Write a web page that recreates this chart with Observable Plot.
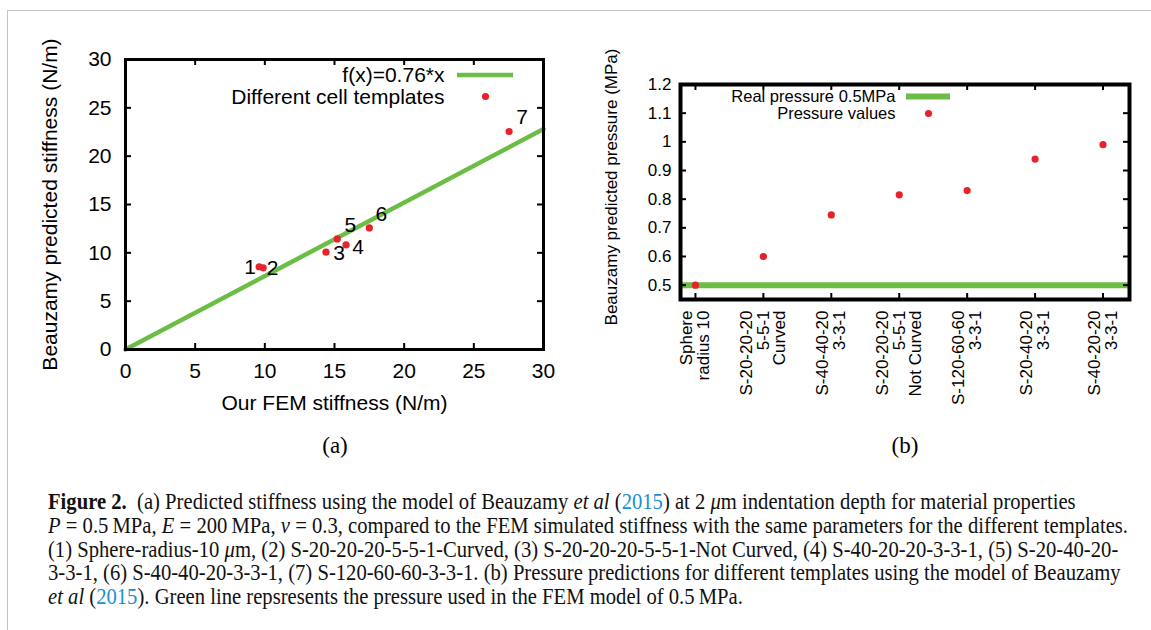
<!DOCTYPE html>
<html>
<head>
<meta charset="utf-8">
<script src="https://cdn.jsdelivr.net/npm/d3@7"></script>
<script src="https://cdn.jsdelivr.net/npm/@observablehq/plot@0.6"></script>
<style>
  html, body { margin: 0; padding: 0; background: #fff; }
  #page { position: relative; width: 1151px; height: 630px; overflow: hidden; background: #fff; }
  #border { position: absolute; left: 7px; top: 10px; width: 1300px; height: 800px;
            border-left: 1px solid #c4c4c4; border-top: 1px solid #c4c4c4; }
  .panel { position: absolute; top: 0; }
  .panel svg { overflow: visible; }
  .plabel { position: absolute; font-family: "Liberation Serif", "DejaVu Serif", serif; font-size: 23px;
            transform: translateX(-50%); top: 433px; }
  #caption { position: absolute; left: 48px; top: 490px; font-family: "Liberation Serif", "DejaVu Serif", serif;
             font-size: 22.5px; color: #111; }
  #caption .line { white-space: nowrap; height: 23.8px; line-height: 23.8px; transform-origin: 0 50%; }
  #caption .line span.w { display: inline-block; }
  #caption .cite { color: #1b8fd1; }
</style>
</head>
<body>
<div id="page">
  <div id="border"></div>
  <div id="panelA" class="panel" style="left:0px"></div>
  <div id="panelB" class="panel" style="left:580px"></div>
  <div class="plabel" style="left:335px">(a)</div>
  <div class="plabel" style="left:905px">(b)</div>
  <div id="caption">
    <div class="line"><span class="w"><b>Figure 2.</b>&nbsp;&nbsp;(a) Predicted stiffness using the model of Beauzamy <i>et al</i> (<span class="cite">2015</span>) at 2&nbsp;<i>μ</i>m indentation depth for material properties</span></div>
    <div class="line"><span class="w"><i>P</i> = 0.5&thinsp;MPa, <i>E</i> = 200&thinsp;MPa, <i>ν</i> = 0.3, compared to the FEM simulated stiffness with the same parameters for the different templates.</span></div>
    <div class="line"><span class="w">(1) Sphere-radius-10&nbsp;<i>μ</i>m, (2) S-20-20-20-5-5-1-Curved, (3) S-20-20-20-5-5-1-Not Curved, (4) S-40-20-20-3-3-1, (5) S-20-40-20-</span></div>
    <div class="line"><span class="w">3-3-1, (6) S-40-40-20-3-3-1, (7) S-120-60-60-3-3-1. (b) Pressure predictions for different templates using the model of Beauzamy</span></div>
    <div class="line"><span class="w"><i>et al</i> (<span class="cite">2015</span>). Green line repsresents the pressure used in the FEM model of 0.5&thinsp;MPa.</span></div>
  </div>
</div>
<script>
// ---------------- Data: panel (a) ----------------
const templateIds = ["1", "2", "3", "4", "5", "6", "7"];
const femStiffness = [9.59, 9.88, 14.39, 15.83, 15.2, 17.5, 27.53];
const predictedStiffness = [8.56, 8.45, 10.07, 10.82, 11.44, 12.58, 22.55];
const fitSlope = 0.76;
const fitRange = [0, 30];
const stiffnessTicks = [0, 5, 10, 15, 20, 25, 30];

// ---------------- Data: panel (b) ----------------
const templateLabels = [
  "Sphere\nradius 10",
  "S-20-20-20\n5-5-1\nCurved",
  "S-40-40-20\n3-3-1",
  "S-20-20-20\n5-5-1\nNot Curved",
  "S-120-60-60\n3-3-1",
  "S-20-40-20\n3-3-1",
  "S-40-20-20\n3-3-1"
];
const pressureValues = [0.5, 0.6, 0.745, 0.815, 0.83, 0.94, 0.99];
const realPressure = 0.5;
const pressureTicks = [0.5, 0.6, 0.7, 0.8, 0.9, 1.0, 1.1, 1.2];

// ---------------- Styles ----------------
const GREEN = "#6cbd45";
const RED = "#e8222b";
const SANS = "'Liberation Sans', Arial, Helvetica, sans-serif";

// ---------------- Panel (a) ----------------
const pointsA = templateIds.map((id, i) => ({id, x: femStiffness[i], y: predictedStiffness[i]}));
const fitLine = fitRange.map(x => ({x, y: fitSlope * x}));
const labelOffsets = {"1": [-9, 1], "2": [9.5, 0.5], "3": [13, 1], "4": [12, 2], "5": [13, -14], "6": [12, -14], "7": [13, -14]};

const A = {width: 580, height: 420, ml: 125, mr: 37, mt: 59, mb: 71};
const fwA = A.width - A.ml - A.mr, fhA = A.height - A.mt - A.mb;
const tick = 6;
const legTxt = {textAnchor: "end", lineAnchor: "middle", fontSize: 21};

const plotA = Plot.plot({
  width: A.width, height: A.height,
  marginLeft: A.ml, marginRight: A.mr, marginTop: A.mt, marginBottom: A.mb,
  style: {fontFamily: SANS, fontSize: "21px", color: "black", background: "transparent", overflow: "visible"},
  x: {domain: [0, 30]},
  y: {domain: [0, 30]},
  marks: [
    Plot.line(fitLine, {x: "x", y: "y", stroke: GREEN, strokeWidth: 4.5}),
    Plot.dot(pointsA, {x: "x", y: "y", r: 3.6, fill: RED}),
    ...templateIds.map(id => Plot.text(pointsA.filter(d => d.id === id), {
      x: "x", y: "y", text: "id", dx: labelOffsets[id][0], dy: labelOffsets[id][1], fontSize: 21, fill: "black"
    })),
    Plot.tickX(stiffnessTicks, {x: d => d, insetTop: fhA - tick, stroke: "black", strokeWidth: 2}),
    Plot.tickX(stiffnessTicks, {x: d => d, insetBottom: fhA - tick, stroke: "black", strokeWidth: 2}),
    Plot.tickY(stiffnessTicks, {y: d => d, insetRight: fwA - tick, stroke: "black", strokeWidth: 2}),
    Plot.tickY(stiffnessTicks, {y: d => d, insetLeft: fwA - tick, stroke: "black", strokeWidth: 2}),
    Plot.axisX({ticks: stiffnessTicks, tickSize: 0, tickPadding: 14, label: null}),
    Plot.axisY({ticks: stiffnessTicks, tickSize: 0, tickPadding: 14, label: null}),
    Plot.text(["Our FEM stiffness (N/m)"], {text: d => d, frameAnchor: "bottom", lineAnchor: "middle", textAnchor: "middle", dy: 54, fontSize: 21}),
    Plot.text(["Beauzamy predicted stiffness (N/m)"], {text: d => d, frameAnchor: "left", rotate: -90, textAnchor: "middle", lineAnchor: "middle", dx: -75, fontSize: 21}),
    Plot.text(["f(x)=0.76*x"], {text: d => d, frameAnchor: "top-right", dx: -(A.width - A.mr - 444), dy: 16, ...legTxt}),
    Plot.text(["Different cell templates"], {text: d => d, frameAnchor: "top-right", dx: -(A.width - A.mr - 444), dy: 38, ...legTxt}),
    Plot.dot([0], {frameAnchor: "top-right", dx: -(A.width - A.mr - 485), dy: 37, r: 3.6, fill: RED}),
    Plot.frame({stroke: "black", strokeWidth: 3})
  ]
});
document.getElementById("panelA").append(plotA);
// legend line swatch (panel a)
d3.select(plotA).append("line")
  .attr("x1", 457).attr("x2", 513).attr("y1", 75).attr("y2", 75)
  .attr("stroke", GREEN).attr("stroke-width", 4.5);

// ---------------- Panel (b) ----------------
const B = {width: 571, height: 420, ml: 100, mr: 22, mt: 84, mb: 121};
const fwB = B.width - B.ml - B.mr, fhB = B.height - B.mt - B.mb;
const pointsB = templateLabels.map((label, i) => ({pos: i + 1, label, value: pressureValues[i]}));
const catPositions = pointsB.map(d => d.pos);
const fmtP = d => String(+d.toFixed(1));
const legTxtB = {textAnchor: "end", lineAnchor: "middle", fontSize: 16.5};

const plotB = Plot.plot({
  width: B.width, height: B.height,
  marginLeft: B.ml, marginRight: B.mr, marginTop: B.mt, marginBottom: B.mb,
  style: {fontFamily: SANS, fontSize: "17px", color: "black", background: "transparent", overflow: "visible"},
  x: {domain: [0.78, 7.39], axis: null},
  y: {domain: [0.45, 1.2], axis: null},
  marks: [
    Plot.ruleY([realPressure], {stroke: GREEN, strokeWidth: 6}),
    Plot.dot(pointsB, {x: "pos", y: "value", r: 3.6, fill: RED}),
    Plot.tickX(catPositions, {x: d => d, insetTop: fhB - tick, stroke: "black", strokeWidth: 2}),
    Plot.tickX(catPositions, {x: d => d, insetBottom: fhB - tick, stroke: "black", strokeWidth: 2}),
    Plot.tickY(pressureTicks, {y: d => d, insetRight: fwB - tick, stroke: "black", strokeWidth: 2}),
    Plot.tickY(pressureTicks, {y: d => d, insetLeft: fwB - tick, stroke: "black", strokeWidth: 2}),
    Plot.axisY({ticks: pressureTicks, tickFormat: fmtP, tickSize: 0, tickPadding: 9, label: null}),
    Plot.text(pointsB, {x: "pos", text: "label", frameAnchor: "bottom", rotate: -90, textAnchor: "end",
                        lineAnchor: "middle", lineHeight: 0.98, dy: 11, fontSize: 17}),
    Plot.text(["Beauzamy predicted pressure (MPa)"], {text: d => d, frameAnchor: "left", rotate: -90, textAnchor: "middle", lineAnchor: "middle", dx: -69, dy: -5, fontSize: 17}),
    Plot.text(["Real pressure 0.5MPa"], {text: d => d, frameAnchor: "top-left", dx: 315 - B.ml, dy: 12, ...legTxtB}),
    Plot.text(["Pressure values"], {text: d => d, frameAnchor: "top-left", dx: 315 - B.ml, dy: 29.5, ...legTxtB}),
    Plot.dot([0], {frameAnchor: "top-left", dx: 348 - B.ml, dy: 29, r: 3.6, fill: RED}),
    Plot.frame({stroke: "black", strokeWidth: 4})
  ]
});
document.getElementById("panelB").append(plotB);
d3.select(plotB).append("line")
  .attr("x1", 326).attr("x2", 370).attr("y1", 96.5).attr("y2", 96.5)
  .attr("stroke", GREEN).attr("stroke-width", 6);

// ---------------- Caption fitting ----------------
const lines = document.querySelectorAll("#caption .line");
const ref = lines[1].querySelector(".w").getBoundingClientRect().width;
const s = 1080 / ref;
lines.forEach(l => { l.style.transform = `scaleX(${s})`; });
</script>
</body>
</html>
